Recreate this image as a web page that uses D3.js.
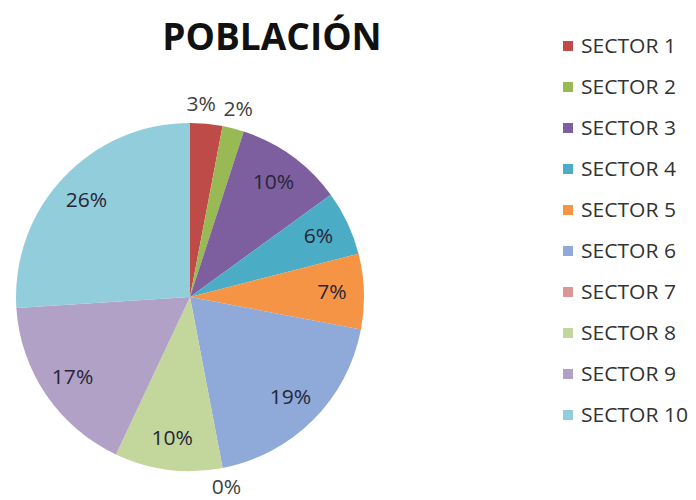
<!DOCTYPE html>
<html>
<head>
<meta charset="utf-8">
<script src="https://cdn.jsdelivr.net/npm/d3@7"></script>
<style>
  html, body { margin: 0; padding: 0; background: #fff; }
  svg { display: block; }
</style>
</head>
<body>
<svg id="chart" width="696" height="500"></svg>
<script>
// Población por sector (porcentaje)
const sectors = ["SECTOR 1", "SECTOR 2", "SECTOR 3", "SECTOR 4", "SECTOR 5",
                 "SECTOR 6", "SECTOR 7", "SECTOR 8", "SECTOR 9", "SECTOR 10"];
const shares = [3, 2, 10, 6, 7, 19, 0, 10, 17, 26];
const colors = ["#BE4B48", "#98B954", "#7D5FA0", "#4AACC5", "#F59445",
                "#8FA9D8", "#D99795", "#C3D69B", "#B2A1C7", "#92CDDC"];
const title = "POBLACIÓN";

const svg = d3.select("#chart");
const font = "'Open Sans', 'Noto Sans', sans-serif";
const stretch = 1.08; // slightly widened glyphs

// Title
svg.append("text")
  .attr("x", 272).attr("y", 50)
  .attr("text-anchor", "middle")
  .attr("font-family", font)
  .attr("font-weight", 700)
  .attr("font-size", 37)
  .attr("fill", "#111")
  .text(title);

// Pie
const cx = 190, cy = 297, r = 174;
const data = sectors.map((s, i) => ({ name: s, value: shares[i], color: colors[i] }));

const pie = d3.pie().value(d => d.value).sort(null);
const arcs = pie(data);
const arc = d3.arc().innerRadius(0).outerRadius(r);
const inLabel = d3.arc().innerRadius(142).outerRadius(142);
const outLabel = d3.arc().innerRadius(194).outerRadius(194);

const g = svg.append("g").attr("transform", `translate(${cx},${cy})`);

g.selectAll("path.slice")
  .data(arcs)
  .join("path")
  .attr("class", "slice")
  .attr("d", arc)
  .attr("fill", d => d.data.color);

// Percentage labels: small slices are labelled outside the pie
const isOut = d => d.data.value < 4;
const labels = arcs.map(d => ({ d, p: (isOut(d) ? outLabel : inLabel).centroid(d) }));

// push overlapping outside labels apart (earlier label moves back)
const outs = labels.filter(l => isOut(l.d));
const minGap = 37;
for (let i = outs.length - 2; i >= 0; i--) {
  const a = outs[i], b = outs[i + 1];
  if (Math.abs(a.p[1] - b.p[1]) < 20 && b.p[0] - a.p[0] < minGap) {
    a.p[0] = b.p[0] - minGap;
  }
}

g.selectAll("text.pct")
  .data(labels)
  .join("text")
  .attr("class", "pct")
  .attr("transform", l => `translate(${l.p[0]},${l.p[1]}) scale(${stretch},1)`)
  .attr("text-anchor", "middle")
  .attr("dy", "0.35em")
  .attr("font-family", font)
  .attr("font-size", 19.5)
  .attr("fill", l => isOut(l.d) ? "#404040" : "#262636")
  .text(l => l.d.data.value + "%");

// Legend
const legend = svg.append("g").attr("transform", "translate(563,46)");
const rowY = d3.scalePoint().domain(sectors).range([0, 369]);
const rows = legend.selectAll("g.row")
  .data(data)
  .join("g")
  .attr("class", "row")
  .attr("transform", d => `translate(0,${rowY(d.name)})`);
rows.append("rect")
  .attr("x", 0).attr("y", -5)
  .attr("width", 10).attr("height", 10)
  .attr("fill", d => d.color);
rows.append("text")
  .attr("transform", `translate(18,0) scale(${stretch},1)`)
  .attr("dy", "0.35em")
  .attr("font-family", font)
  .attr("font-size", 19.5)
  .attr("fill", "#333")
  .text(d => d.name);
</script>
</body>
</html>
